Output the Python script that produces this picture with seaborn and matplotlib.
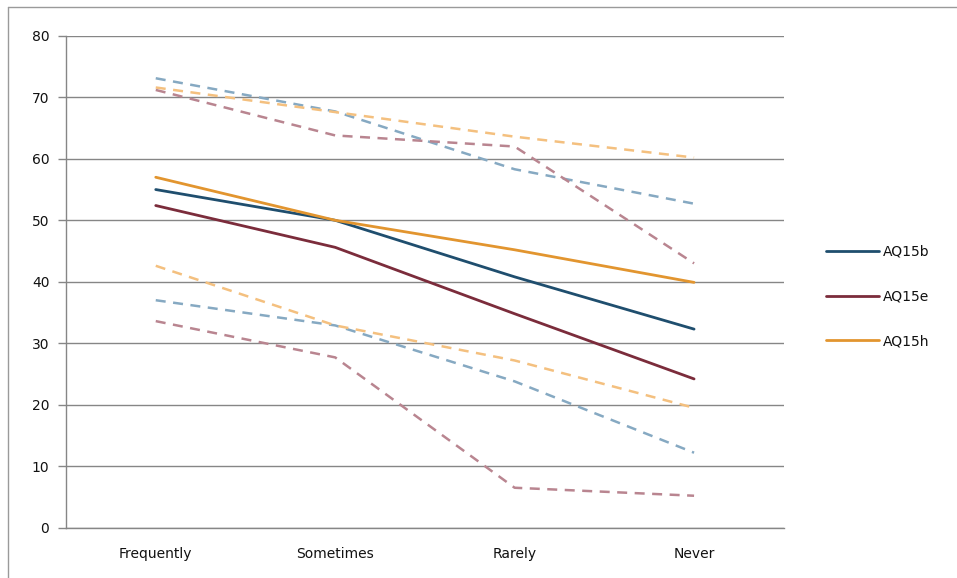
import matplotlib
matplotlib.use("Agg")
import matplotlib.pyplot as plt
import matplotlib.lines as mlines
import numpy as np
import seaborn as sns

sns.set_style("white")
plt.rcParams['font.family'] = ['DejaVu Sans']

categories = ["Frequently", "Sometimes", "Rarely", "Never"]
series = ["AQ15b", "AQ15e", "AQ15h"]

aq15b = [55.0, 50.0, 40.8, 32.3]
aq15e = [52.4, 45.6, 34.8, 24.2]
aq15h = [57.0, 50.0, 45.2, 39.9]

aq15b_upper = [73.1, 67.7, 58.3, 52.7]
aq15e_upper = [71.2, 63.8, 62.0, 43.0]
aq15h_upper = [71.6, 67.6, 63.6, 60.2]

aq15b_lower = [37.0, 32.9, 23.8, 12.2]
aq15e_lower = [33.6, 27.7, 6.5, 5.2]
aq15h_lower = [42.6, 32.9, 27.2, 19.5]

y_ticks = [0, 10, 20, 30, 40, 50, 60, 70, 80]

dark = {"AQ15b": "#1f4e6e", "AQ15e": "#7b2c3b", "AQ15h": "#e2952f"}
light = {"AQ15b": "#86a9c2", "AQ15e": "#b98590", "AQ15h": "#f4c07f"}

means = {"AQ15b": aq15b, "AQ15e": aq15e, "AQ15h": aq15h}
uppers = {"AQ15b": aq15b_upper, "AQ15e": aq15e_upper, "AQ15h": aq15h_upper}
lowers = {"AQ15b": aq15b_lower, "AQ15e": aq15e_lower, "AQ15h": aq15h_lower}

fig = plt.figure(figsize=(9.57, 5.78), dpi=100)
ax = fig.add_axes([0.069, 0.087, 0.750, 0.851])

xpos = np.arange(len(categories))

# dashed bounds first, solid means on top
for s in series:
    sns.lineplot(x=xpos, y=uppers[s], ax=ax, color=light[s], linewidth=1.8,
                 linestyle=(0, (4, 3)), legend=False)
    sns.lineplot(x=xpos, y=lowers[s], ax=ax, color=light[s], linewidth=1.8,
                 linestyle=(0, (4, 3)), legend=False)
for s in series:
    sns.lineplot(x=xpos, y=means[s], ax=ax, color=dark[s], linewidth=2.0,
                 legend=False)

ax.set_xlim(-0.5, len(categories) - 0.5)
ax.set_ylim(0, 80)
ax.set_yticks(y_ticks)
ax.set_xticks(xpos)
ax.set_xticklabels(categories)
ax.set_xticks(np.arange(-0.5, len(categories)), minor=True)
ax.tick_params(axis="x", which="major", length=0, pad=14, labelsize=10,
               labelcolor="#111111")
ax.tick_params(axis="x", which="minor", length=5, color="#868686", width=1,
               direction="out")
ax.tick_params(axis="y", length=6, color="#868686", width=1, labelsize=10,
               pad=6, direction="out", left=True, labelcolor="#111111")
ax.yaxis.grid(True, color="#868686", linewidth=1)
ax.set_axisbelow(True)
for side in ["top", "right"]:
    ax.spines[side].set_visible(False)
for side in ["left", "bottom"]:
    ax.spines[side].set_color("#868686")
    ax.spines[side].set_linewidth(1)
ax.set_xlabel("")
ax.set_ylabel("")

handles = [mlines.Line2D([], [], color=dark[s], linewidth=2.0, label=s) for s in series]
leg = fig.legend(handles=handles, loc="center left", bbox_to_anchor=(0.85, 0.487),
                 frameon=False, fontsize=10, handlelength=3.8, labelspacing=2.2,
                 handletextpad=0.3)
for t in leg.get_texts():
    t.set_color("#111111")

# thin frame at the left and top edges
fig.add_artist(mlines.Line2D([0.008, 0.008], [0, 0.988], color="#9a9a9a",
                             linewidth=1, transform=fig.transFigure))
fig.add_artist(mlines.Line2D([0.008, 1.0], [0.988, 0.988], color="#9a9a9a",
                             linewidth=1, transform=fig.transFigure))

fig.savefig("out.png", dpi=100)
